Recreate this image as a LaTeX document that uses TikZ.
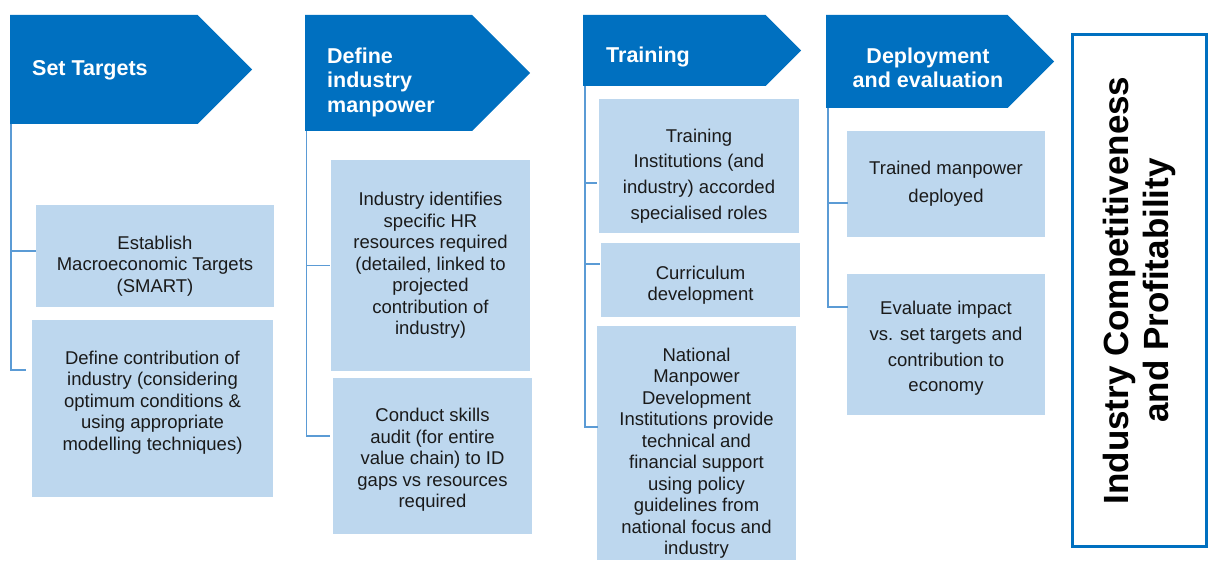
\documentclass[tikz,border=0pt]{standalone}
\usepackage{fontspec}
\setmainfont{Liberation Sans}
\usetikzlibrary{positioning}
\definecolor{headblue}{RGB}{0,112,192}
\definecolor{boxblue}{RGB}{189,215,238}
\definecolor{linkblue}{RGB}{91,155,213}
\definecolor{inktext}{RGB}{26,26,26}
\tikzset{
  head/.style={fill=headblue},
  headtext/.style={text=white,inner sep=0pt,align=left,font=\fontsize{21.5}{24.5}\selectfont\bfseries},
  task/.style={fill=boxblue,inner sep=0pt},
  tasktext/.style={inner sep=0pt,align=center,text=inktext,font=\fontsize{18.5}{21.5}\selectfont},
  wide/.style={font=\fontsize{18.5}{25.7}\selectfont},
  link/.style={draw=linkblue,line width=1.5pt},
}

\begin{document}
\begin{tikzpicture}[x=1pt,y=-1pt]
	\useasboundingbox (0,0) rectangle (1209,561);

	% stage headers
	\fill[head] (10,15) -- (197.5,15) -- (252,69.5) -- (197.5,124) -- (10,124) -- cycle;
	\fill[head] (305,15) -- (472,15) -- (530,73) -- (472,131) -- (305,131) -- cycle;
	\fill[head] (583,15) -- (765.5,15) -- (801,50.5) -- (765.5,86) -- (583,86) -- cycle;
	\fill[head] (826,15) -- (1007.5,15) -- (1054,61.5) -- (1007.5,108) -- (826,108) -- cycle;

	\node[headtext,anchor=west] (t1) at (32,70) {Set Targets};
	\node[headtext,anchor=west] (t2) at (327,82) {Define\\industry\\manpower};
	\node[headtext,anchor=west] (t3) at (606,57) {Training};
	\node[headtext,align=center] (t4) at (928,68) {Deployment\\and evaluation};

	\coordinate (s1) at (11,124);
	\coordinate (s2) at (306.5,131);
	\coordinate (s3) at (585,86);
	\coordinate (s4) at (828,108);

	% task boxes
	\node[task,minimum width=238pt,minimum height=102pt] (b1) at (155,256) {};
	\node[task,minimum width=241pt,minimum height=177pt] (b2) at (152.5,408.5) {};
	\node[task,minimum width=199pt,minimum height=211pt] (b3) at (430.5,265.5) {};
	\node[task,minimum width=199pt,minimum height=156pt] (b4) at (432.5,456) {};
	\node[task,minimum width=200pt,minimum height=134pt] (b5) at (699,166) {};
	\node[task,minimum width=199pt,minimum height=74pt] (b6) at (700.5,280) {};
	\node[task,minimum width=199pt,minimum height=234pt] (b7) at (696.5,443) {};
	\node[task,minimum width=198pt,minimum height=106pt] (b8) at (946,184) {};
	\node[task,minimum width=198pt,minimum height=141pt] (b9) at (946,344.5) {};

	\node[tasktext] (b1t) at ([yshift=-10pt]b1.center) {Establish\\Macroeconomic Targets\\(SMART)};
	\node[tasktext] (b2t) at ([yshift=6pt]b2.center) {Define contribution of\\industry (considering\\optimum conditions \&\\using appropriate\\modelling techniques)};
	\node[tasktext] (b3t) at (b3.center) {Industry identifies\\specific HR\\resources required\\(detailed, linked to\\projected\\contribution of\\industry)};
	\node[tasktext] (b4t) at ([yshift=-4pt]b4.center) {Conduct skills\\audit (for entire\\value chain) to ID\\gaps vs resources\\required};
	\node[tasktext,wide] (b5t) at ([yshift=-10pt]b5.center) {Training\\Institutions (and\\industry) accorded\\specialised roles};
	\node[tasktext] (b6t) at ([yshift=-5pt]b6.center) {Curriculum\\development};
	\node[tasktext] (b7t) at ([yshift=-10pt]b7.center) {National\\Manpower\\Development\\Institutions provide\\technical and\\financial support\\using policy\\guidelines from\\national focus and\\industry};
	\node[tasktext,font=\fontsize{18.5}{28}\selectfont] (b8t) at (b8.center) {Trained manpower\\deployed};
	\node[tasktext,wide] (b9t) at ([yshift=-4pt]b9.center) {Evaluate impact\\vs. set targets and\\contribution to\\economy};

	% outcome
	\node[draw=headblue,line width=3pt,inner sep=0pt,rotate=90,minimum width=512pt,minimum height=134pt,align=center,font=\fontsize{35}{40}\selectfont\bfseries] (goal) at (1139.5,290.5) {Industry Competitiveness\\and Profitability};

	% links
	\draw[link] (s1) |- ([yshift=5pt]b1.west);
	\draw[link] (s1) |- ([xshift=-6pt,yshift=38.5pt]b2.west);
	\draw[link] (s2) |- ([xshift=-1pt]b3.west);
	\draw[link] (s2) |- ([xshift=-3pt,yshift=20pt]b4.west);
	\draw[link] (s3) |- ([xshift=-2pt,yshift=-17pt]b5.west);
	\draw[link] (s3) |- ([xshift=-1pt,yshift=16pt]b6.west);
	\draw[link] (s3) |- ([xshift=1pt,yshift=16pt]b7.west);
	\draw[link] (s4) |- ([xshift=1pt,yshift=-19pt]b8.west);
	\draw[link] (s4) |- ([xshift=1pt,yshift=37.5pt]b9.west);
\end{tikzpicture}
\end{document}
